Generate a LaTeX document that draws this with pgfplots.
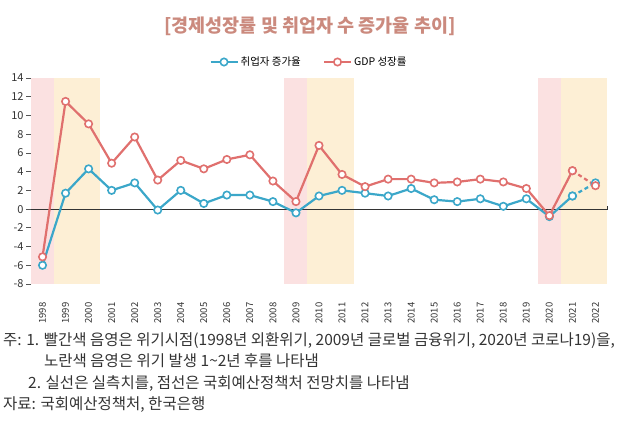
\documentclass[border=0pt]{standalone}
\usepackage{fontspec}
\setmainfont{Noto Sans CJK KR}
\usepackage{pgfplots}
\pgfplotsset{compat=1.18}
\definecolor{blueline}{HTML}{3BA7C9}
\definecolor{redline}{HTML}{E0706E}
\definecolor{pinkband}{HTML}{FBE1E1}
\definecolor{yellowband}{HTML}{FDEFD5}
\definecolor{titlecol}{HTML}{CB8A7E}
\definecolor{axisgray}{HTML}{555555}
\definecolor{textgray}{HTML}{333333}

\pgfplotstableread{
year emp gdp
1998 -6.0 -5.1
1999 1.7 11.5
2000 4.3 9.1
2001 2.0 4.9
2002 2.8 7.7
2003 -0.1 3.1
2004 2.0 5.2
2005 0.6 4.3
2006 1.5 5.3
2007 1.5 5.8
2008 0.8 3.0
2009 -0.4 0.8
2010 1.4 6.8
2011 2.0 3.7
2012 1.7 2.4
2013 1.4 3.2
2014 2.2 3.2
2015 1.0 2.8
2016 0.8 2.9
2017 1.1 3.2
2018 0.3 2.9
2019 1.1 2.2
2020 -0.8 -0.7
2021 1.4 4.1
}\actual
\pgfplotstableread{
year emp gdp
2021 1.4 4.1
2022 2.8 2.5
}\forecast

\begin{document}
\begin{tikzpicture}
\path[use as bounding box] (0pt,0pt) rectangle (630pt,-424pt);
\node[font=\fontsize{18.5}{20}\selectfont\bfseries, text=titlecol] at (310pt,-26pt) {[경제성장률 및 취업자 수 증가율 추이]};
\begin{axis}[
  at={(31pt,-284pt)}, anchor=south west, scale only axis,
  width=576pt, height=206pt,
  xmin=1997.5, xmax=2022.5, ymin=-8, ymax=14,
  axis x line*=bottom, axis y line*=left,
  x axis line style={draw=none},
  y axis line style={axisgray, line width=0.7pt},
  xtick={1998,...,2022}, ytick={-8,-6,...,14},
  xtick style={draw=none},
  ytick style={axisgray, line width=0.7pt},
  tick align=outside, major tick length=5pt,
  x tick label style={rotate=90, anchor=east, font=\fontsize{9.5}{10}\selectfont, text=textgray, /pgf/number format/1000 sep={}, xshift=-10pt},
  y tick label style={font=\fontsize{11}{12}\selectfont, text=textgray, xshift=1pt},
  /pgf/number format/assume math mode=true,
  clip=false,
  legend style={at={(0.4826,1.0777)}, anchor=center, draw=none, fill=none, font=\fontsize{10.5}{12}\selectfont, legend columns=2,
    /tikz/every even column/.append style={column sep=20pt}},
  legend image code/.code={\draw[mark repeat=2, mark phase=2] plot coordinates {(0pt,0pt) (13.5pt,0pt) (27pt,0pt)};},
]
\addplot[draw=none, fill=pinkband, forget plot] coordinates {(1997.5,-8) (1997.5,14) (1998.5,14) (1998.5,-8)} -- cycle;
\addplot[draw=none, fill=yellowband, forget plot] coordinates {(1998.5,-8) (1998.5,14) (2000.5,14) (2000.5,-8)} -- cycle;
\addplot[draw=none, fill=pinkband, forget plot] coordinates {(2008.5,-8) (2008.5,14) (2009.5,14) (2009.5,-8)} -- cycle;
\addplot[draw=none, fill=yellowband, forget plot] coordinates {(2009.5,-8) (2009.5,14) (2011.5,14) (2011.5,-8)} -- cycle;
\addplot[draw=none, fill=pinkband, forget plot] coordinates {(2019.5,-8) (2019.5,14) (2020.5,14) (2020.5,-8)} -- cycle;
\addplot[draw=none, fill=yellowband, forget plot] coordinates {(2020.5,-8) (2020.5,14) (2022.5,14) (2022.5,-8)} -- cycle;
\addplot[black!80, line width=0.8pt, forget plot] coordinates {(1997.5,0) (2022.5,0) (2022.5,0.3)};
\addplot[blueline, line width=2.2pt, mark=*, mark size=3.7pt, mark options={fill=white, draw=blueline, line width=1.6pt}] table[x=year, y=emp] {\actual};
\addlegendentry{취업자 증가율}
\addplot[redline, line width=2.2pt, mark=*, mark size=3.7pt, mark options={fill=white, draw=redline, line width=1.6pt}] table[x=year, y=gdp] {\actual};
\addlegendentry{GDP 성장률}
\addplot[blueline, line width=2.2pt, dash pattern=on 4pt off 3pt, mark=*, mark size=3.7pt, mark options={solid, fill=white, draw=blueline, line width=1.6pt}, forget plot] table[x=year, y=emp] {\forecast};
\addplot[redline, line width=2.2pt, dash pattern=on 4pt off 3pt, mark=*, mark size=3.7pt, mark options={solid, fill=white, draw=redline, line width=1.6pt}, forget plot] table[x=year, y=gdp] {\forecast};
\end{axis}
\begin{scope}[every node/.style={anchor=base west, font=\fontsize{15.5}{17}\selectfont, text=textgray, inner sep=0pt}]
\node at (3pt,-345pt) {주: 1. 빨간색 음영은 위기시점(1998년 외환위기, 2009년 글로벌 금융위기, 2020년 코로나19)을,};
\node at (44pt,-366pt) {노란색 음영은 위기 발생 1\textasciitilde2년 후를 나타냄};
\node at (28pt,-388pt) {2. 실선은 실측치를, 점선은 국회예산정책처 전망치를 나타냄};
\node at (3pt,-409pt) {자료: 국회예산정책처, 한국은행};
\end{scope}
\end{tikzpicture}
\end{document}
